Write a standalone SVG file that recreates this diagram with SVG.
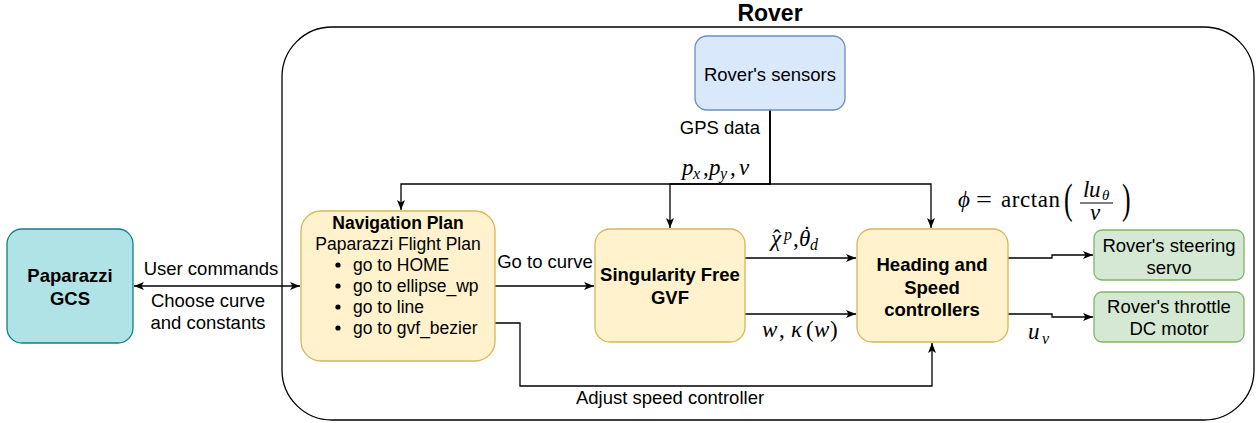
<svg xmlns="http://www.w3.org/2000/svg" width="1258" height="423" viewBox="0 0 1258 423">
<defs>
<style>
.t{font-family:"Liberation Sans",Arial,sans-serif;font-size:18.5px;fill:#000;}
.b{font-weight:bold;}
.np{font-size:17.5px;}
.m{font-family:"Liberation Serif","DejaVu Serif",serif;font-style:italic;font-size:23px;fill:#000;}
.up{font-style:normal;}
.sub{font-size:16px;}
.ln{fill:none;stroke:#000;stroke-width:1.3;}
.yel{fill:#fff2cc;stroke:#d6b656;stroke-width:1.3;}
.blu{fill:#dae8fc;stroke:#6c8ebf;stroke-width:1.3;}
.grn{fill:#d5e8d4;stroke:#82b366;stroke-width:1.3;}
.tea{fill:#b0e3e6;stroke:#0e8088;stroke-width:1.3;}
</style>
<marker id="ar" viewBox="0 0 10 8" refX="10" refY="4" markerWidth="10" markerHeight="8" markerUnits="userSpaceOnUse" orient="auto-start-reverse">
<path d="M0,0 L10,4 L0,8 L2.5,4 z" fill="#000"/>
</marker>
</defs>
<rect width="1258" height="423" fill="#fff"/>

<g id="rover">
<rect x="282" y="27" width="972" height="393" rx="50" fill="none" stroke="#000" stroke-width="1.3"/>
<text class="t b" x="770" y="21" text-anchor="middle" style="font-size:23px">Rover</text>
</g>

<g id="connectors">
<path class="ln" d="M770,110 V184 H401 V210" marker-end="url(#ar)"/>
<path class="ln" d="M770,110 V184 H670 V228" marker-end="url(#ar)"/>
<path class="ln" d="M770,110 V184 H931 V228" marker-end="url(#ar)"/>
<path class="ln" d="M134,286 H300" marker-start="url(#ar)" marker-end="url(#ar)"/>
<path class="ln" d="M495,286 H594" marker-end="url(#ar)"/>
<path class="ln" d="M495,323 H520 V386 H932 V343" marker-end="url(#ar)"/>
<path class="ln" d="M745,258 H856" marker-end="url(#ar)"/>
<path class="ln" d="M745,314 H856" marker-end="url(#ar)"/>
<path class="ln" d="M1008,258 H1052 V255 H1093" marker-end="url(#ar)"/>
<path class="ln" d="M1008,314 H1052 V317 H1093" marker-end="url(#ar)"/>
<text class="t" x="760" y="134" text-anchor="end">GPS data</text>
<text class="t" x="211" y="275" text-anchor="middle">User commands</text>
<text class="t" x="208" y="307" text-anchor="middle">Choose curve</text>
<text class="t" x="208" y="329" text-anchor="middle">and constants</text>
<text class="t" x="545" y="268" text-anchor="middle">Go to curve</text>
<text class="t" x="670" y="404" text-anchor="middle">Adjust speed controller</text>
<text class="m"><tspan x="682" y="175">p</tspan><tspan class="sub" x="693" y="179">x</tspan><tspan class="up" x="703" y="175">,</tspan><tspan x="709" y="175">p</tspan><tspan class="sub" x="720" y="179">y</tspan><tspan class="up" x="730" y="175">,</tspan><tspan x="739" y="175">v</tspan></text>
<text class="m"><tspan x="771" y="246">χ</tspan><tspan class="up" x="773" y="246">ˆ</tspan><tspan class="sub" x="784" y="240">p</tspan><tspan class="up" x="793" y="246">,</tspan><tspan x="799" y="246">θ</tspan><tspan class="up" x="803" y="242">˙</tspan><tspan class="sub" x="810" y="250">d</tspan></text>
<text class="m"><tspan x="762" y="337">w</tspan><tspan class="up" x="779" y="337">,</tspan><tspan x="791" y="337">κ</tspan><tspan class="up" x="806" y="337">(</tspan><tspan x="814" y="337">w</tspan><tspan class="up" x="830" y="337">)</tspan></text>
<text class="m"><tspan x="1028" y="339">u</tspan><tspan class="sub" x="1042" y="344">v</tspan></text>
<text class="m"><tspan x="958" y="207">ϕ</tspan><tspan class="up" x="976" y="207" textLength="16" lengthAdjust="spacingAndGlyphs">=</tspan><tspan class="up" x="1001" y="207" textLength="59" lengthAdjust="spacing">arctan</tspan></text>
<text class="m up" transform="translate(1064,213) scale(0.6,1)" style="font-size:43px">(</text>
<text class="m up" transform="translate(1122,213) scale(0.6,1)" style="font-size:43px">)</text>
<text class="m"><tspan x="1083" y="197">l</tspan><tspan x="1089" y="197">u</tspan><tspan class="sub" x="1102" y="200" style="font-size:15px">θ</tspan><tspan x="1090" y="220">v</tspan></text>
<path d="M1080,203 H1113" stroke="#000" stroke-width="1.2"/>
</g>

<g id="sensors">
<rect class="blu" x="695" y="36" width="150" height="74" rx="12"/>
<text class="t" x="770" y="81" text-anchor="middle">Rover's sensors</text>
</g>

<g id="gcs">
<rect class="tea" x="7" y="229" width="126" height="114" rx="15"/>
<text class="t b" x="70" y="282" text-anchor="middle">Paparazzi</text>
<text class="t b" x="70" y="305" text-anchor="middle">GCS</text>
</g>

<g id="navplan">
<rect class="yel" x="301" y="211" width="194" height="150" rx="20"/>
<text class="t b np" x="398" y="229" text-anchor="middle">Navigation Plan</text>
<text class="t np" x="398" y="250" text-anchor="middle">Paparazzi Flight Plan</text>
<circle cx="338" cy="265" r="2.6"/>
<circle cx="338" cy="286" r="2.6"/>
<circle cx="338" cy="307" r="2.6"/>
<circle cx="338" cy="328" r="2.6"/>
<text class="t np" x="353" y="271">go to HOME</text>
<text class="t np" x="353" y="292">go to ellipse_wp</text>
<text class="t np" x="353" y="313">go to line</text>
<text class="t np" x="353" y="334">go to gvf_bezier</text>
</g>

<g id="gvf">
<rect class="yel" x="595" y="229" width="150" height="113" rx="15"/>
<text class="t b" x="670" y="281" text-anchor="middle">Singularity Free</text>
<text class="t b" x="670" y="304" text-anchor="middle">GVF</text>
</g>

<g id="heading">
<rect class="yel" x="857" y="229" width="151" height="113" rx="15"/>
<text class="t b" x="932" y="271" text-anchor="middle">Heading and</text>
<text class="t b" x="932" y="294" text-anchor="middle">Speed</text>
<text class="t b" x="932" y="316" text-anchor="middle">controllers</text>
</g>

<g id="steering">
<rect class="grn" x="1094" y="230" width="150" height="50" rx="8"/>
<text class="t" x="1169" y="251.5" text-anchor="middle">Rover's steering</text>
<text class="t" x="1169" y="273.5" text-anchor="middle">servo</text>
</g>

<g id="throttle">
<rect class="grn" x="1094" y="292" width="150" height="50" rx="8"/>
<text class="t" x="1169" y="313" text-anchor="middle">Rover's throttle</text>
<text class="t" x="1169" y="334.5" text-anchor="middle">DC motor</text>
</g>
</svg>
